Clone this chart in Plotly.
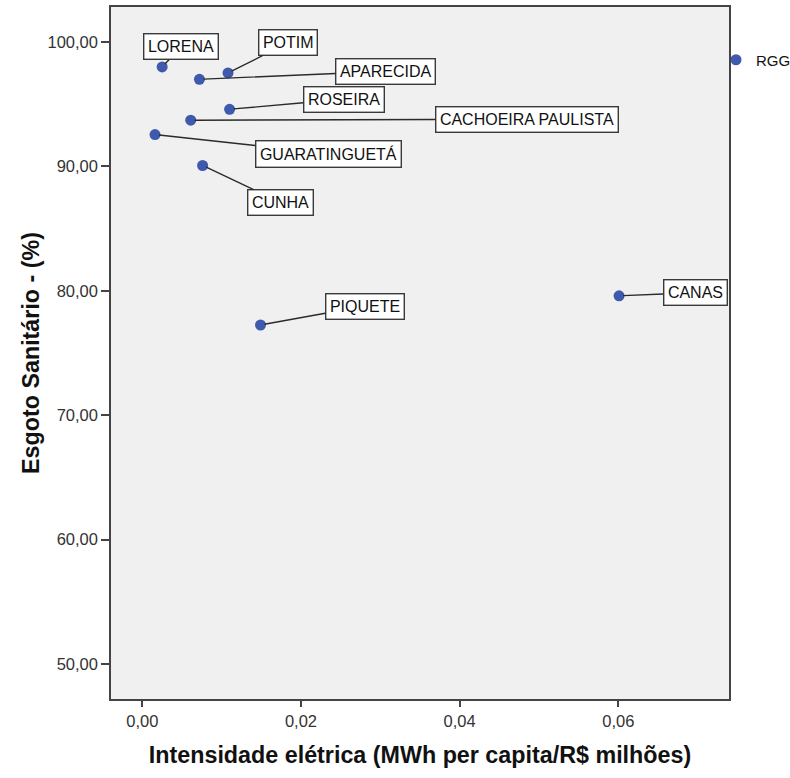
import plotly.graph_objects as go

# ---- data ----
municipios = ["LORENA", "POTIM", "APARECIDA", "ROSEIRA", "CACHOEIRA PAULISTA",
              "GUARATINGUETÁ", "CUNHA", "PIQUETE", "CANAS"]
intensidade = [0.0025, 0.0108, 0.0072, 0.0110, 0.0061, 0.0016, 0.0076, 0.0149, 0.0601]
esgoto = [97.99, 97.51, 97.00, 94.59, 93.71, 92.56, 90.07, 77.25, 79.60]

x_ticks = [0.0, 0.02, 0.04, 0.06]
y_ticks = [50, 60, 70, 80, 90, 100]

# label box offsets (pixels, box centre relative to the point)
label_dx = [19, 60, 186, 114, 336, 173, 78, 104, 76]
label_dy = [-20, -30, -8, -10, -1, 19, 37, -19, -3]

W, H = 790, 778
ML, MR, MT, MB = 111, 61, 7, 79

fig = go.Figure()
fig.add_trace(go.Scatter(
    x=intensidade, y=esgoto, mode="markers", name="RGG",
    marker=dict(color="#3f5aad", size=11, line=dict(width=0)),
    showlegend=True, cliponaxis=False,
))

for nm, xv, yv, dx, dy in zip(municipios, intensidade, esgoto, label_dx, label_dy):
    fig.add_annotation(
        x=xv, y=yv, text=nm, showarrow=True, arrowhead=0, arrowwidth=1.4,
        arrowcolor="#2b2b2b", ax=dx, ay=dy, standoff=4,
        font=dict(family="Liberation Sans, Arial", size=16, color="#111"),
        bgcolor="white", bordercolor="#3a3a3a", borderwidth=1.4, borderpad=3.5,
    )

axis_font = dict(family="Liberation Sans, Arial", size=16.5, color="#333")
title_font = dict(family="Liberation Sans, Arial", size=23.3, color="#111")

fig.update_layout(
    width=W, height=H,
    margin=dict(l=ML, r=MR, t=MT, b=MB),
    paper_bgcolor="white", plot_bgcolor="#f0f0f0",
    separators=",.",
    showlegend=True,
    legend=dict(xref="container", yref="container", indentation=-15,
                x=731 / W, xanchor="left", y=1 - 60 / H, yanchor="middle",
                bgcolor="rgba(0,0,0,0)", borderwidth=0,
                font=dict(family="Liberation Sans, Arial", size=15, color="#111")),
    xaxis=dict(
        range=[-0.00395, 0.07396], tickvals=x_ticks, tickformat=".2f",
        showgrid=False, zeroline=False, showline=True, mirror=True,
        linecolor="#444", linewidth=1.5, ticks="outside", ticklen=6,
        tickwidth=1.5, tickcolor="#444", tickfont=axis_font, automargin=False,
        title=dict(text="<b>Intensidade elétrica (MWh per capita/R$ milhões)</b>",
                   font=title_font, standoff=18),
    ),
    yaxis=dict(
        range=[47.19, 102.81], tickvals=y_ticks, tickformat=".2f",
        showgrid=False, zeroline=False, showline=True, mirror=True,
        linecolor="#444", linewidth=1.5, ticks="outside", ticklen=8,
        tickwidth=1.5, tickcolor="#444", tickfont=axis_font, automargin=False,
        title=dict(text="<b>Esgoto Sanitário - (%)</b>", font=title_font, standoff=1),
    ),
)

fig.write_html("out.html")
